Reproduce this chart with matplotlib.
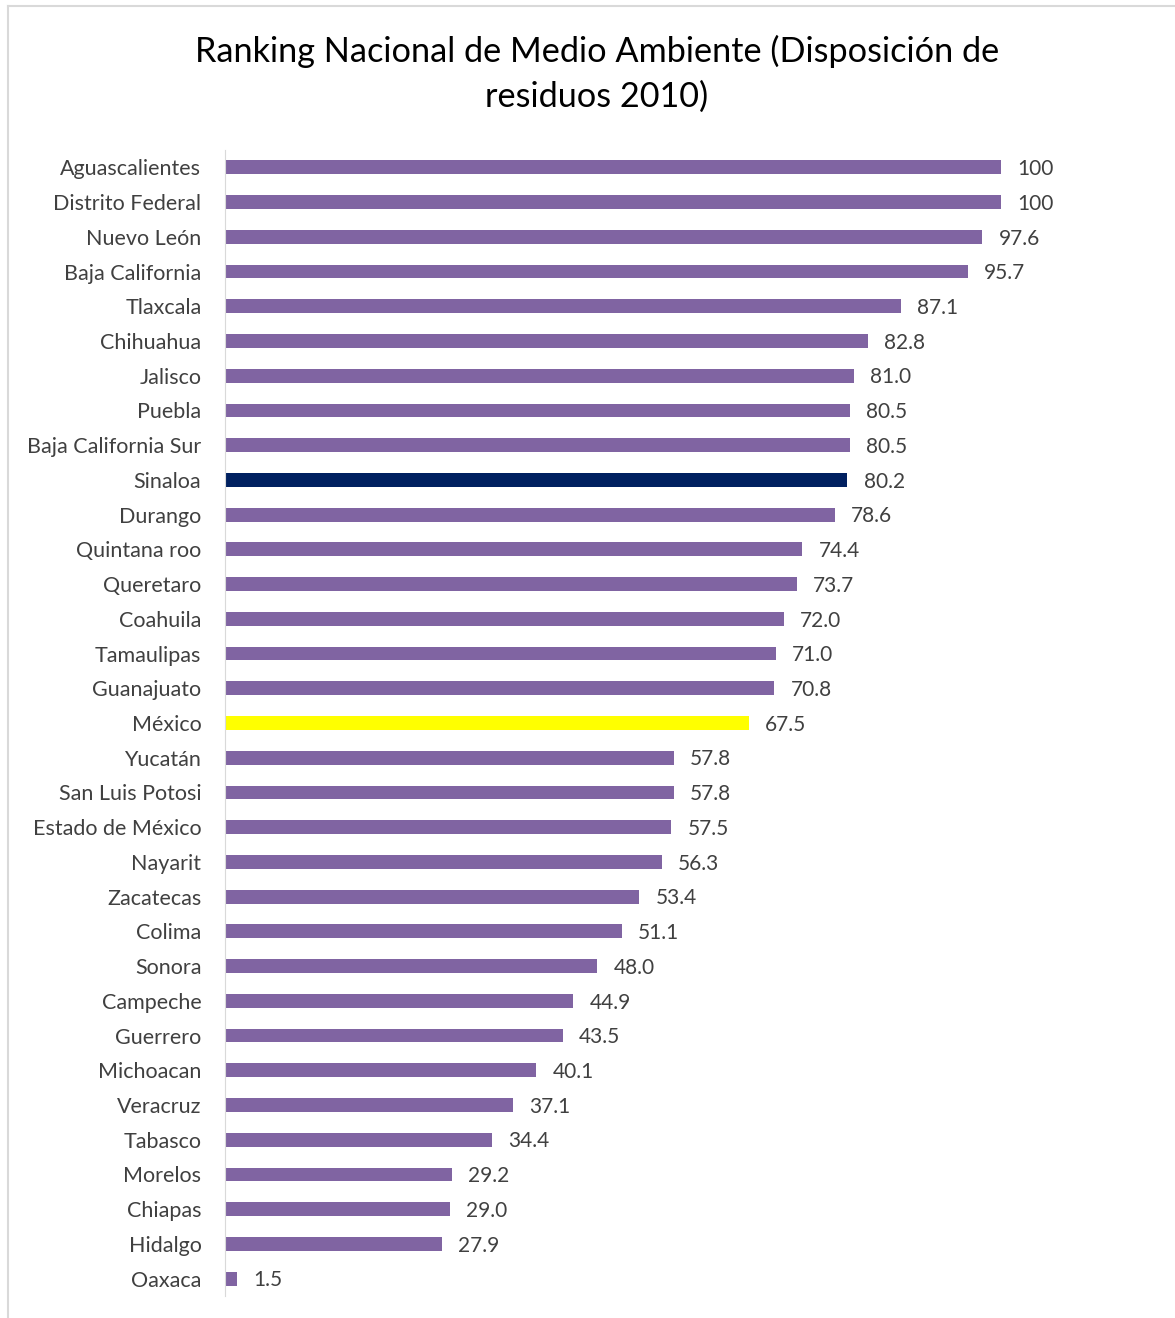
import matplotlib.pyplot as plt
from matplotlib.lines import Line2D

plt.rcParams['font.family'] = ['Lato', 'DejaVu Sans']

estados = ['Aguascalientes', 'Distrito Federal', 'Nuevo León', 'Baja California',
           'Tlaxcala', 'Chihuahua', 'Jalisco', 'Puebla', 'Baja California Sur',
           'Sinaloa', 'Durango', 'Quintana roo', 'Queretaro', 'Coahuila',
           'Tamaulipas', 'Guanajuato', 'México', 'Yucatán', 'San Luis Potosi',
           'Estado de México', 'Nayarit', 'Zacatecas', 'Colima', 'Sonora',
           'Campeche', 'Guerrero', 'Michoacan', 'Veracruz', 'Tabasco',
           'Morelos', 'Chiapas', 'Hidalgo', 'Oaxaca']
valores = [100, 100, 97.6, 95.7, 87.1, 82.8, 81.0, 80.5, 80.5, 80.2, 78.6,
           74.4, 73.7, 72.0, 71.0, 70.8, 67.5, 57.8, 57.8, 57.5, 56.3, 53.4,
           51.1, 48.0, 44.9, 43.5, 40.1, 37.1, 34.4, 29.2, 29.0, 27.9, 1.5]
etiquetas = ['100', '100'] + ['%.1f' % v for v in valores[2:]]

colores = []
for e in estados:
    if e == 'Sinaloa':
        colores.append('#002060')
    elif e == 'México':
        colores.append('#FFFF00')
    else:
        colores.append('#8064A2')

W, H = 1175, 1318
fig = plt.figure(figsize=(W / 100, H / 100), dpi=100)
ax = fig.add_axes([225 / W, 1 - 1296 / H, (1150 - 225) / W, (1296 - 150) / H])

y = list(range(len(estados)))
ax.barh(y, valores, height=0.4, color=colores)
ax.set_ylim(len(estados) - 0.5, -0.5)
ax.set_xlim(0, (1150 - 225) / 7.76)

for yi, v, t in zip(y, valores, etiquetas):
    ax.text(v + 2.1, yi + 0.05, t, va='center', ha='left', fontsize=15, color='#404040')

ax.set_yticks(y)
ax.set_yticklabels(estados, fontsize=15.5, color='#404040')
ax.tick_params(axis='y', length=0, pad=17)
ax.set_xticks([])
for s in ['top', 'right', 'bottom']:
    ax.spines[s].set_visible(False)
ax.spines['left'].set_color('#D9D9D9')

fig.text(597 / W, 1 - 74 / H, 'Ranking Nacional de Medio Ambiente (Disposición de\nresiduos 2010)',
         ha='center', va='center', fontsize=24.7, color='black', linespacing=1.5)

# borde del grafico
fig.add_artist(Line2D([8 / W, 1], [1 - 6 / H, 1 - 6 / H], color='#D9D9D9', lw=1.5))
fig.add_artist(Line2D([8 / W, 8 / W], [0, 1 - 6 / H], color='#D9D9D9', lw=1.5))

fig.savefig('out.png', dpi=100)
